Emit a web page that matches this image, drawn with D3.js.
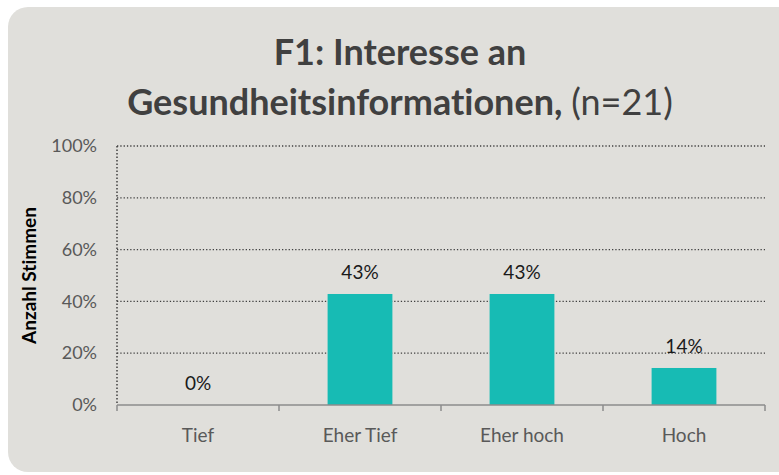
<!DOCTYPE html>
<html>
<head>
<meta charset="utf-8">
<script src="https://cdn.jsdelivr.net/npm/d3@7"></script>
<style>
  body { margin: 0; background: #ffffff; }
  text { font-family: Lato, "Open Sans", sans-serif; font-variant-ligatures: none; }
</style>
</head>
<body>
<div id="chart"></div>
<script>
// chart data
var categories = ["Tief", "Eher Tief", "Eher hoch", "Hoch"];
var shares = [0, 42.86, 42.86, 14.29];
var valueLabels = ["0%", "43%", "43%", "14%"];
var yTicks = [0, 20, 40, 60, 80, 100];

var svgWidth = 779;
var svgHeight = 475;

var margin = { top: 146, right: 14, bottom: 70, left: 117 };
var width = svgWidth - margin.left - margin.right;
var height = svgHeight - margin.top - margin.bottom;

var svg = d3.select("#chart")
  .append("svg")
  .attr("width", svgWidth)
  .attr("height", svgHeight);

// panel background
svg.append("rect")
  .attr("x", 8)
  .attr("y", 7)
  .attr("width", 800)
  .attr("height", 465)
  .attr("rx", 20)
  .attr("fill", "#e0dfdb");

// title
var title = svg.append("text")
  .attr("text-anchor", "middle")
  .attr("fill", "#404040")
  .attr("font-size", 36);
title.append("tspan")
  .attr("x", 400).attr("y", 65)
  .attr("font-weight", "bold")
  .text("F1: Interesse an");
title.append("tspan")
  .attr("x", 400).attr("y", 115)
  .attr("font-weight", "bold")
  .text("Gesundheitsinformationen, ");
title.append("tspan")
  .text("(n=21)");

var chart = svg.append("g")
  .attr("transform", `translate(${margin.left}, ${margin.top})`);

var xScale = d3.scaleBand()
  .domain(categories)
  .range([0, width])
  .paddingInner(0.6)
  .paddingOuter(0.3);

var yScale = d3.scaleLinear()
  .domain([0, 100])
  .range([height, 0]);

// dotted gridlines
chart.selectAll(".grid")
  .data(yTicks.filter(d => d > 0))
  .enter()
  .append("line")
  .attr("x1", 0)
  .attr("x2", width)
  .attr("y1", d => yScale(d))
  .attr("y2", d => yScale(d))
  .attr("stroke", "#404040")
  .attr("stroke-width", 1.3)
  .attr("stroke-dasharray", "1.3,2");

// dotted left axis line
chart.append("line")
  .attr("x1", 0).attr("x2", 0)
  .attr("y1", 0).attr("y2", height)
  .attr("stroke", "#404040")
  .attr("stroke-width", 1.5)
  .attr("stroke-dasharray", "1.5,2");

// y tick labels
var leftAxis = d3.axisLeft(yScale)
  .tickValues(yTicks)
  .tickFormat(d => d + "%")
  .tickSize(0)
  .tickPadding(20);

var yAxisG = chart.append("g").call(leftAxis);
yAxisG.select(".domain").remove();
yAxisG.selectAll("text")
  .attr("font-size", 18)
  .attr("fill", "#595959")
  .style("font-family", "Lato, sans-serif");

// bars
chart.selectAll(".bar")
  .data(shares)
  .enter()
  .append("rect")
  .attr("x", (d, i) => xScale(categories[i]))
  .attr("y", d => yScale(d))
  .attr("width", xScale.bandwidth())
  .attr("height", d => height - yScale(d))
  .attr("fill", "#17bbb4");

// value labels
chart.selectAll(".vlabel")
  .data(shares)
  .enter()
  .append("text")
  .attr("x", (d, i) => xScale(categories[i]) + xScale.bandwidth() / 2)
  .attr("y", d => yScale(d) - 15)
  .attr("text-anchor", "middle")
  .attr("font-size", 19)
  .attr("fill", "#1a1a1a")
  .text((d, i) => valueLabels[i]);

// bottom axis
var step = width / categories.length;
chart.append("line")
  .attr("x1", 0).attr("x2", width)
  .attr("y1", height).attr("y2", height)
  .attr("stroke", "#8c8c8c")
  .attr("stroke-width", 1.5);

chart.selectAll(".xtick")
  .data(d3.range(categories.length + 1))
  .enter()
  .append("line")
  .attr("x1", d => d * step)
  .attr("x2", d => d * step)
  .attr("y1", height)
  .attr("y2", height + 6)
  .attr("stroke", "#8c8c8c")
  .attr("stroke-width", 1.5);

chart.selectAll(".xlabel")
  .data(categories)
  .enter()
  .append("text")
  .attr("x", d => xScale(d) + xScale.bandwidth() / 2)
  .attr("y", height + 37)
  .attr("text-anchor", "middle")
  .attr("font-size", 19)
  .attr("fill", "#595959")
  .text(d => d);

// y axis title
svg.append("text")
  .attr("transform", `translate(36, ${margin.top + height / 2}) rotate(-90)`)
  .attr("text-anchor", "middle")
  .attr("font-size", 19)
  .attr("font-weight", "bold")
  .attr("fill", "#000000")
  .text("Anzahl Stimmen");
</script>
</body>
</html>
